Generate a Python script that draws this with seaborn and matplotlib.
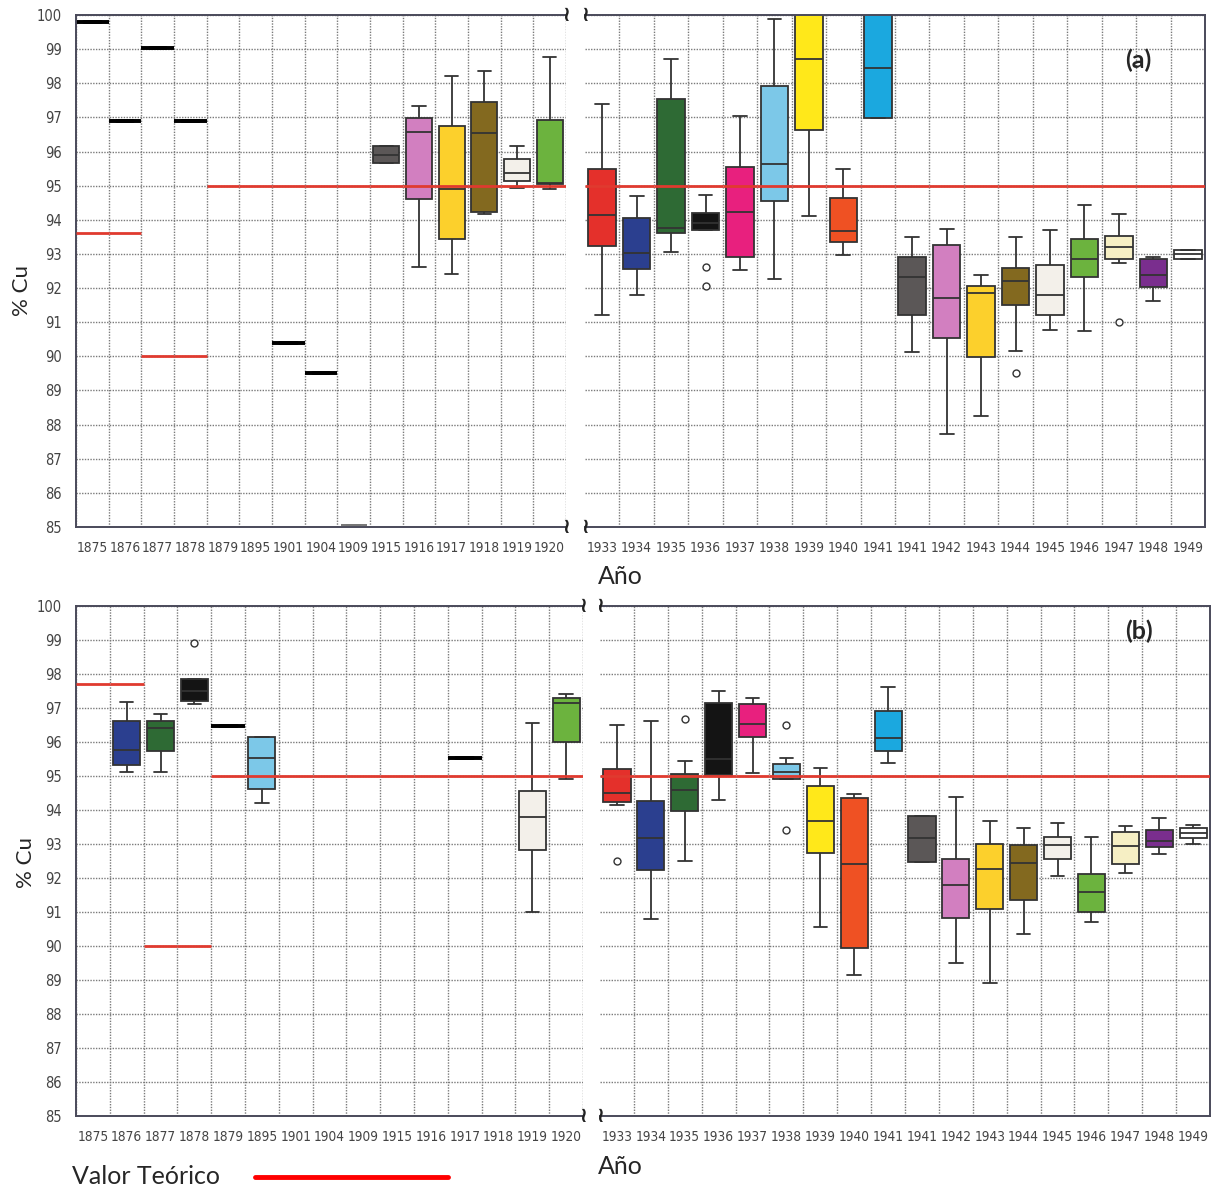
import os
import numpy as np
import pandas as pd
import matplotlib
matplotlib.use("Agg")
import matplotlib.pyplot as plt
from matplotlib import font_manager as fm
import seaborn as sns

# ---------------------------------------------------------------------------
# Categories
# ---------------------------------------------------------------------------
LEFT_YEARS = ["1875", "1876", "1877", "1878", "1879", "1895", "1901", "1904",
              "1909", "1915", "1916", "1917", "1918", "1919", "1920"]
RIGHT_KEYS = ["1933", "1934", "1935", "1936", "1937", "1938", "1939", "1940",
              "1941", "1941 (2)", "1942", "1943", "1944", "1945", "1946",
              "1947", "1948", "1949"]
RIGHT_LABELS = ["1933", "1934", "1935", "1936", "1937", "1938", "1939", "1940",
                "1941", "1941", "1942", "1943", "1944", "1945", "1946",
                "1947", "1948", "1949"]

# Five-number summaries: (low whisker, Q1, median, Q3, high whisker)
A_LEFT_BOXES = {
    "1915": (95.65, 95.65, 95.90, 96.15, 96.15),
    "1916": (92.61, 94.60, 96.58, 96.97, 97.33),
    "1917": (92.40, 93.43, 94.91, 96.74, 98.20),
    "1918": (94.17, 94.23, 96.53, 97.46, 98.37),
    "1919": (94.94, 95.15, 95.36, 95.78, 96.15),
    "1920": (94.90, 95.06, 95.08, 96.92, 98.78),
}
A_LEFT_SINGLE = {"1875": 99.80, "1876": 96.88, "1877": 99.04, "1878": 96.90,
                 "1901": 90.38, "1904": 89.50}
A_LEFT_FAINT = {"1909": 85.05}
A_LEFT_OUTLIERS = {}
A_LEFT_THEORY = [93.6, 93.6, 90.0, 90.0, 95.0, 95.0, 95.0, 95.0, 95.0, 95.0,
                 95.0, 95.0, 95.0, 95.0, 95.0]

A_RIGHT_BOXES = {
    "1933": (91.22, 93.22, 94.13, 95.48, 97.39),
    "1934": (91.80, 92.55, 93.02, 94.06, 94.69),
    "1935": (93.06, 93.60, 93.77, 97.54, 98.72),
    "1936": (93.69, 93.69, 93.90, 94.19, 94.72),
    "1937": (92.53, 92.90, 94.23, 95.55, 97.05),
    "1938": (92.28, 94.55, 95.64, 97.91, 99.89),
    "1939": (94.11, 96.64, 98.72, 100.80, 101.50),
    "1940": (92.97, 93.36, 93.66, 94.63, 95.48),
    "1941": (96.98, 96.98, 98.46, 100.60, 101.50),
    "1941 (2)": (90.14, 91.21, 92.31, 92.90, 93.51),
    "1942": (87.71, 90.53, 91.72, 93.26, 93.72),
    "1943": (88.24, 89.97, 91.85, 92.07, 92.39),
    "1944": (90.16, 91.51, 92.21, 92.60, 93.51),
    "1945": (90.78, 91.21, 91.80, 92.68, 93.69),
    "1946": (90.75, 92.33, 92.85, 93.43, 94.43),
    "1947": (92.73, 92.85, 93.19, 93.52, 94.18),
    "1948": (91.63, 92.02, 92.38, 92.85, 92.92),
    "1949": (92.85, 92.85, 92.99, 93.11, 93.11),
}
A_RIGHT_OUTLIERS = {"1936": [92.62, 92.07], "1944": [89.51], "1947": [91.02]}
A_RIGHT_THEORY = [95.0] * 18

B_LEFT_BOXES = {
    "1876": (95.12, 95.33, 95.77, 96.62, 97.18),
    "1877": (95.12, 95.74, 96.42, 96.62, 96.81),
    "1878": (97.11, 97.21, 97.50, 97.86, 97.86),
    "1895": (94.22, 94.61, 95.54, 96.15, 96.15),
    "1919": (90.99, 92.83, 93.79, 94.55, 96.57),
    "1920": (94.92, 96.01, 97.16, 97.28, 97.40),
}
B_LEFT_SINGLE = {"1879": 96.47, "1917": 95.52}
B_LEFT_FAINT = {}
B_LEFT_OUTLIERS = {"1878": [98.92]}
B_LEFT_THEORY = [97.7, 97.7, 90.0, 90.0, 95.0, 95.0, 95.0, 95.0, 95.0, 95.0,
                 95.0, 95.0, 95.0, 95.0, 95.0]

B_RIGHT_BOXES = {
    "1933": (94.15, 94.24, 94.51, 95.21, 96.50),
    "1934": (90.78, 92.24, 93.17, 94.26, 96.62),
    "1935": (92.51, 93.96, 94.59, 95.05, 95.45),
    "1936": (94.30, 95.03, 95.50, 97.16, 97.49),
    "1937": (95.08, 96.16, 96.53, 97.11, 97.29),
    "1938": (94.91, 94.91, 95.13, 95.35, 95.54),
    "1939": (90.56, 92.75, 93.68, 94.71, 95.25),
    "1940": (89.14, 89.93, 92.42, 94.35, 94.47),
    "1941": (95.38, 95.74, 96.11, 96.91, 97.61),
    "1941 (2)": (92.46, 92.46, 93.17, 93.83, 93.83),
    "1942": (89.51, 90.83, 91.80, 92.56, 94.37),
    "1943": (88.92, 91.09, 92.26, 93.00, 93.68),
    "1944": (90.34, 91.36, 92.44, 92.98, 93.47),
    "1945": (92.05, 92.56, 92.98, 93.22, 93.63),
    "1946": (90.70, 91.00, 91.60, 92.13, 93.22),
    "1947": (92.16, 92.42, 92.93, 93.34, 93.54),
    "1948": (92.71, 92.91, 93.10, 93.42, 93.76),
    "1949": (93.00, 93.17, 93.32, 93.47, 93.56),
}
B_RIGHT_OUTLIERS = {"1933": [92.49], "1935": [96.67], "1938": [96.50, 93.42]}
B_RIGHT_THEORY = [95.0] * 18

# Box fill colours per year
COLORS = {
    "1876": "#2b3f8f", "1877": "#2e6a34", "1878": "#141414", "1895": "#7cc8e8",
    "1915": "#5b5757", "1916": "#d27fc0", "1917": "#fcd02c", "1918": "#83691f",
    "1919": "#f3f0ea", "1920": "#6cb33e",
    "1933": "#e4302b", "1934": "#2b3f8f", "1935": "#2e6a34", "1936": "#141414",
    "1937": "#e8207e", "1938": "#7cc8e8", "1939": "#ffe81a", "1940": "#ef5123",
    "1941": "#1ba8df", "1941 (2)": "#5b5757", "1942": "#d27fc0", "1943": "#fcd02c",
    "1944": "#83691f", "1945": "#f3f0ea", "1946": "#6cb33e", "1947": "#f6efc4",
    "1948": "#7a2e8e", "1949": "#ffffff",
}

RED = "#e03a2f"
EDGE = "#333333"
GRID = "#7a7a7a"

sns.set_theme(style="white")
plt.rcParams["font.family"] = ["Liberation Sans", "DejaVu Sans"]
LABEL_FONT = ["Lato", "DejaVu Sans"]


def narrow_font():
    """Return (family, stretch) of an installed condensed face, if any."""
    candidates = [("Liberation Sans Narrow", "normal"),
                  ("Noto Sans", "condensed"), ("DejaVu Sans", "condensed"),
                  ("Open Sans", "condensed"), ("Roboto", "condensed")]
    for fam, stretch in candidates:
        try:
            path = fm.findfont(fm.FontProperties(family=fam, stretch=stretch),
                               fallback_to_default=False)
        except Exception:
            continue
        name = os.path.basename(path).lower()
        if "narrow" in name or "condensed" in name:
            return fam, stretch
    return None


_narrow = narrow_font()
if _narrow:
    XTICK_KW = dict(fontfamily=_narrow[0], fontstretch=_narrow[1], fontsize=9.8)
    YTICK_KW = dict(fontfamily=_narrow[0], fontstretch=_narrow[1], fontsize=10.5)
else:
    XTICK_KW = dict(fontfamily="Liberation Sans", fontsize=8.0)
    YTICK_KW = dict(fontfamily="Liberation Sans", fontsize=8.5)


def long_frame(boxes):
    rows = [(k, v) for k, summary in boxes.items() for v in summary]
    return pd.DataFrame(rows, columns=["year", "cu"])


def draw_side(ax, keys, labels, boxes, singles, faint, outliers, theory, left):
    df = long_frame(boxes)
    sns.boxplot(data=df, x="year", y="cu", order=keys, hue="year",
                palette=COLORS, legend=False, whis=(0, 100), width=0.8,
                linewidth=1.3, linecolor=EDGE, saturation=1.0,
                showfliers=False, ax=ax)
    if singles:
        sdf = pd.DataFrame({"year": list(singles), "cu": list(singles.values())})
        sns.boxplot(data=sdf, x="year", y="cu", order=keys, color="black",
                    linecolor="black", width=1.0, linewidth=2.6,
                    showfliers=False, ax=ax)
    if faint:
        fdf = pd.DataFrame({"year": list(faint), "cu": list(faint.values())})
        sns.boxplot(data=fdf, x="year", y="cu", order=keys, color="#777777",
                    linecolor="#777777", width=0.8, linewidth=1.2,
                    showfliers=False, ax=ax)
    if outliers:
        odf = pd.DataFrame([(k, v) for k, vals in outliers.items() for v in vals],
                           columns=["year", "cu"])
        sns.stripplot(data=odf, x="year", y="cu", order=keys, jitter=False,
                      marker="o", size=5, color="white", edgecolor=EDGE,
                      linewidth=1.0, ax=ax, zorder=5)

    # theoretical value per category
    for i, v in enumerate(theory):
        ax.hlines(v, i - 0.5, i + 0.5, color=RED, lw=2.0, zorder=6)

    n = len(keys)
    ax.set_xlim(-0.5, n - 0.5)
    ax.set_ylim(85, 100)
    ax.set_xticks(range(n))
    ax.set_xticklabels(labels, color="#444444", **XTICK_KW)
    ax.set_yticks(range(85, 101))
    minor = np.arange(-0.5, n, 1.0) if left else np.arange(0.5, n, 1.0)
    ax.set_xticks(minor, minor=True)
    ax.tick_params(axis="both", which="both", length=0)
    ax.tick_params(axis="x", pad=10)
    ax.tick_params(axis="y", pad=10)
    if left:
        ax.set_yticklabels([str(t) for t in range(85, 101)], color="#444444",
                           **YTICK_KW)
    else:
        ax.set_yticklabels([])
    ax.set_xlabel("")
    ax.set_ylabel("")
    ax.set_axisbelow(True)
    ax.yaxis.grid(True, color=GRID, ls=(0, (1, 1)), lw=1.0)
    ax.xaxis.grid(True, which="minor", color=GRID, ls=(0, (1, 1)), lw=1.0)
    ax.xaxis.grid(False, which="major")
    for sp in ax.spines.values():
        sp.set_color("#4a4a5a")
        sp.set_linewidth(1.4)
    if left:
        ax.spines["right"].set_visible(False)
    else:
        ax.spines["left"].set_visible(False)
    # axis-break marks
    bx = 1.0 if left else 0.0
    for by in (1.0, 0.0):
        ax.text(bx, by, "\u2240", transform=ax.transAxes, ha="center",
                va="center", fontsize=15, fontweight="bold", color="#222222",
                family=["DejaVu Sans"], clip_on=False, zorder=10)


W, H = 1215, 1191
fig = plt.figure(figsize=(W / 100, H / 100), dpi=100)
fig.patch.set_facecolor("white")


def px_axes(x0, x1, y0, y1):
    return fig.add_axes([x0 / W, 1 - y1 / H, (x1 - x0) / W, (y1 - y0) / H])


# Panel (a)
axa_l = px_axes(76, 566, 15, 527)
axa_r = px_axes(585, 1205, 15, 527)
draw_side(axa_l, LEFT_YEARS, LEFT_YEARS, A_LEFT_BOXES, A_LEFT_SINGLE,
          A_LEFT_FAINT, A_LEFT_OUTLIERS, A_LEFT_THEORY, True)
draw_side(axa_r, RIGHT_KEYS, RIGHT_LABELS, A_RIGHT_BOXES, {}, {},
          A_RIGHT_OUTLIERS, A_RIGHT_THEORY, False)

# Panel (b)
axb_l = px_axes(76, 583, 606, 1116)
axb_r = px_axes(600, 1210, 606, 1116)
draw_side(axb_l, LEFT_YEARS, LEFT_YEARS, B_LEFT_BOXES, B_LEFT_SINGLE,
          B_LEFT_FAINT, B_LEFT_OUTLIERS, B_LEFT_THEORY, True)
draw_side(axb_r, RIGHT_KEYS, RIGHT_LABELS, B_RIGHT_BOXES, {}, {},
          B_RIGHT_OUTLIERS, B_RIGHT_THEORY, False)

# Labels
fig.text(22 / W, 1 - 290 / H, "% Cu", rotation=90, ha="center", va="center",
         fontsize=16, family=LABEL_FONT)
fig.text(26 / W, 1 - 862 / H, "% Cu", rotation=90, ha="center", va="center",
         fontsize=16, family=LABEL_FONT)
fig.text(620 / W, 1 - 577 / H, "Año", ha="center", va="center", fontsize=18,
         family=LABEL_FONT)
fig.text(620 / W, 1 - 1167 / H, "Año", ha="center", va="center", fontsize=18,
         family=LABEL_FONT)
fig.text(1138 / W, 1 - 60 / H, "(a)", ha="center", va="center", fontsize=18,
         fontweight="bold", family=LABEL_FONT)
fig.text(1139 / W, 1 - 631 / H, "(b)", ha="center", va="center", fontsize=18,
         fontweight="bold", family=LABEL_FONT)

# Legend for the theoretical value
fig.text(72 / W, 1 - 1177 / H, "Valor Teórico", ha="left", va="center",
         fontsize=18, family=LABEL_FONT)
fig.add_artist(plt.Line2D([255 / W, 448 / W], [1 - 1177 / H, 1 - 1177 / H],
                          color="#ff0000", lw=3.5, transform=fig.transFigure))

fig.savefig("out.png", dpi=100, facecolor="white")
